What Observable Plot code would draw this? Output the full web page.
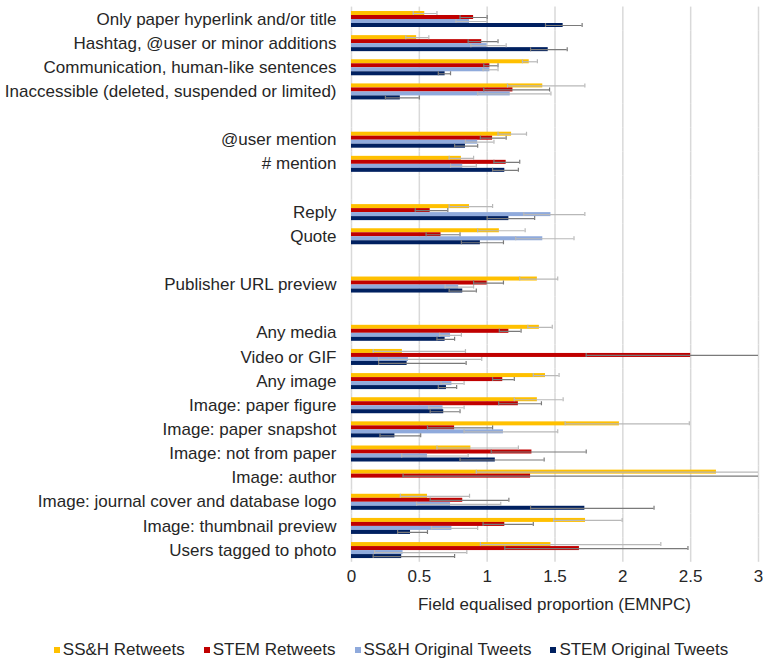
<!DOCTYPE html>
<html>
<head>
<meta charset="utf-8">
<script src="https://cdn.jsdelivr.net/npm/d3@7"></script>
<script src="https://cdn.jsdelivr.net/npm/@observablehq/plot@0.6"></script>
<style>
  html, body { margin: 0; padding: 0; background: #fff; }
  body { width: 763px; height: 661px; overflow: hidden; font-family: "Liberation Sans", Arial, sans-serif; color: #262626; }
  #chart svg { display: block; }
  #xtitle { font-size: 17px; line-height: 20px; margin-top: 5px; padding-left: 351px; width: 407px; text-align: center; }
  #legend { display: flex; justify-content: center; gap: 19px; font-size: 17px; line-height: 20px; margin-top: 25px; padding-left: 19px; }
  #legend .item { display: flex; align-items: center; white-space: nowrap; }
  #legend .sw { width: 6px; height: 6px; margin-right: 3px; }
</style>
</head>
<body>
<div id="chart"></div>
<div id="xtitle">Field equalised proportion (EMNPC)</div>
<div id="legend"></div>
<script>
// Category groups (blank rows separate the groups)
const groups = [
  ["Only paper hyperlink and/or title", "Hashtag, @user or minor additions", "Communication, human-like sentences", "Inaccessible (deleted, suspended or limited)"],
  ["@user mention", "# mention"],
  ["Reply", "Quote"],
  ["Publisher URL preview"],
  ["Any media", "Video or GIF", "Any image", "Image: paper figure", "Image: paper snapshot", "Image: not from paper", "Image: author", "Image: journal cover and database logo", "Image: thumbnail preview", "Users tagged to photo"]
];
const categories = groups.flat();

const series = ["SS&H Retweets", "STEM Retweets", "SS&H Original Tweets", "STEM Original Tweets"];
const colors = ["#ffc000", "#c00000", "#8faadc", "#002060"];

// Values (EMNPC) in category order
const ssahRetweets   = [0.54, 0.48, 1.31, 1.41, 1.18, 0.81, 0.87, 1.09, 1.37, 1.385, 0.375, 1.43, 1.37, 1.975, 0.88, 2.69, 0.56, 1.725, 1.47];
const stemRetweets   = [0.90, 0.96, 1.02, 1.19, 1.04, 1.14, 0.58, 0.66, 1.00, 1.16, 2.50, 1.115, 1.23, 0.76, 1.33, 1.32, 0.82, 1.13, 1.68];
const ssahOriginal   = [0.87, 1.00, 1.02, 1.17, 0.93, 0.82, 1.47, 1.41, 0.79, 0.73, 0.42, 0.74, 0.675, 1.12, 0.56, null, 0.73, 0.74, 0.38];
const stemOriginal   = [1.56, 1.45, 0.69, 0.36, 0.84, 1.13, 1.16, 0.95, 0.82, 0.69, 0.41, 0.70, 0.68, 0.32, 1.06, null, 1.72, 0.435, 0.37];

// Confidence interval bounds
const ssahRetweetsLo = [0.455, 0.40, 1.26, 1.15, 1.08, 0.72, 0.72, 0.93, 1.24, 1.30, 0.16, 1.34, 1.20, 1.575, 0.63, 0.92, 0.36, 1.49, 0.95];
const ssahRetweetsHi = [0.63, 0.57, 1.37, 1.72, 1.29, 0.90, 1.04, 1.28, 1.52, 1.48, 0.84, 1.53, 1.56, 2.49, 1.23, 3.5, 0.87, 1.995, 2.28];
const stemRetweetsLo = [0.80, 0.86, 0.975, 0.975, 0.95, 1.05, 0.47, 0.55, 0.90, 1.09, 1.73, 1.04, 1.085, 0.56, 1.03, 0.38, 0.58, 0.97, 1.13];
const stemRetweetsHi = [1.00, 1.08, 1.08, 1.46, 1.14, 1.24, 0.71, 0.80, 1.12, 1.25, 3.5, 1.20, 1.40, 1.04, 1.73, 3.5, 1.16, 1.34, 2.48];
const ssahOriginalLo = [0.77, 0.88, 0.97, 0.93, 0.84, 0.73, 1.27, 1.21, 0.69, 0.65, 0.20, 0.66, 0.57, 0.83, 0.37, null, 0.48, 0.59, 0.17];
const ssahOriginalHi = [1.00, 1.14, 1.08, 1.47, 1.05, 0.92, 1.72, 1.64, 0.90, 0.81, 0.96, 0.83, 0.83, 1.52, 0.86, null, 1.10, 0.93, 0.85];
const stemOriginalLo = [1.43, 1.32, 0.64, 0.25, 0.76, 1.04, 1.00, 0.81, 0.72, 0.63, 0.20, 0.64, 0.58, 0.21, 0.80, null, 1.32, 0.34, 0.16];
const stemOriginalHi = [1.70, 1.59, 0.73, 0.50, 0.93, 1.23, 1.35, 1.12, 0.92, 0.76, 0.845, 0.775, 0.80, 0.51, 1.42, null, 2.23, 0.56, 0.76];

const xTicks = [0, 0.5, 1, 1.5, 2, 2.5, 3];

// ---- build tables ----
const values = [ssahRetweets, stemRetweets, ssahOriginal, stemOriginal];
const lows = [ssahRetweetsLo, stemRetweetsLo, ssahOriginalLo, stemOriginalLo];
const highs = [ssahRetweetsHi, stemRetweetsHi, ssahOriginalHi, stemOriginalHi];

const rows = groups.flatMap((g, i) => (i ? ["gap" + i, ...g] : g));
const table = [];
categories.forEach((c, i) => series.forEach((s, j) => {
  const v = values[j][i];
  if (v == null) return;
  table.push({category: c, series: s, value: v, lo: lows[j][i], hi: highs[j][i]});
}));
const gridTable = rows.flatMap(r => xTicks.map(t => ({row: r, t})));
const ssahErr = table.filter(d => d.series.startsWith("SS&H"));
const stemErr = table.filter(d => d.series.startsWith("STEM"));

const errMarks = (data, stroke) => [
  Plot.ruleY(data, {x1: "lo", x2: "hi", y: "series", fy: "category", stroke, strokeWidth: 1.2, clip: true}),
  Plot.tickX(data, {x: "lo", y: "series", fy: "category", stroke, strokeWidth: 1.2, clip: true}),
  Plot.tickX(data.filter(d => d.hi <= 3), {x: "hi", y: "series", fy: "category", stroke, strokeWidth: 1.2, clip: true})
];

const chart = Plot.plot({
  width: 763,
  height: 590,
  marginLeft: 351,
  marginRight: 5,
  marginTop: 6.6,
  marginBottom: 28.2,
  style: {fontFamily: "'Liberation Sans', Arial, sans-serif", fontSize: "17px", color: "#262626", background: "white", overflow: "visible"},
  x: {domain: [0, 3], ticks: xTicks, tickFormat: d => String(d), tickSize: 0, tickPadding: 8, label: null},
  y: {domain: series, axis: null, paddingInner: 0, paddingOuter: 0.79},
  fy: {domain: rows, padding: 0, round: false, axis: "left", tickSize: 0, tickPadding: 15, tickFormat: d => (d.startsWith("gap") ? "" : d), label: null},
  color: {domain: series, range: colors},
  marks: [
    Plot.ruleX(gridTable, {x: "t", fy: "row", stroke: "#d9d9d9", strokeWidth: 1.5}),
    Plot.barX(table, {x: "value", y: "series", fy: "category", fill: "series"}),
    ...errMarks(ssahErr, "#b8b8b8"),
    ...errMarks(stemErr, "#7a7a7a")
  ]
});
document.getElementById("chart").appendChild(chart);

const legend = document.getElementById("legend");
series.forEach((s, i) => {
  const item = document.createElement("div");
  item.className = "item";
  const sw = document.createElement("span");
  sw.className = "sw";
  sw.style.background = colors[i];
  const t = document.createElement("span");
  t.textContent = s;
  item.appendChild(sw);
  item.appendChild(t);
  legend.appendChild(item);
});
</script>
</body>
</html>
